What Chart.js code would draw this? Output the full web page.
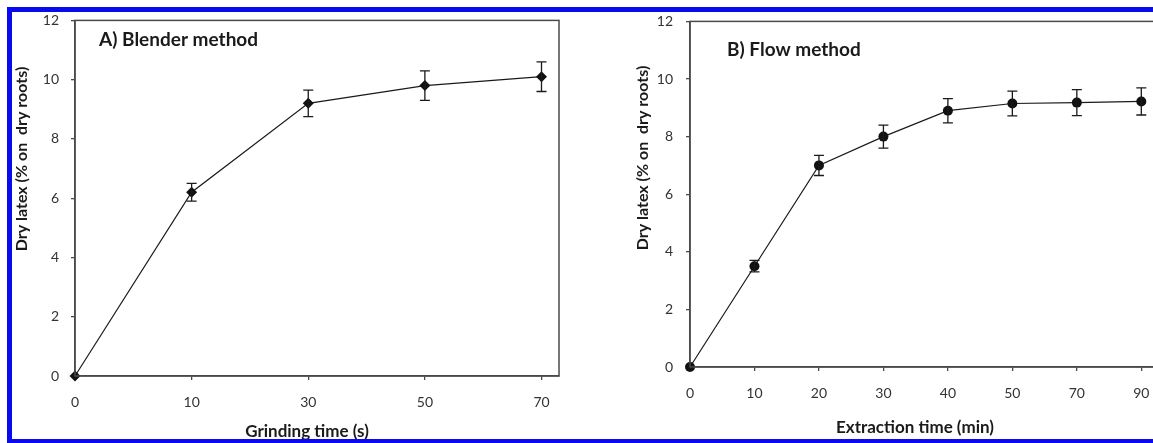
<!DOCTYPE html>
<html>
<head>
<meta charset="utf-8">
<script src="https://cdn.jsdelivr.net/npm/chart.js@4.4.1/dist/chart.umd.min.js"></script>
<style>
    body { margin: 0; width: 1153px; height: 443px; overflow: hidden; background: #ffffff; position: relative; }
    canvas { position: absolute; top: 0; }
    #graficoA { left: 0; }
    #graficoB { left: 580px; }
    .bordo { position: absolute; background: #0a0af0; z-index: 5; }
</style>
</head>
<body>
<canvas id="graficoA" width="580" height="443"></canvas>
<canvas id="graficoB" width="620" height="443"></canvas>
<div class="bordo" style="left:7px; top:7px; width:1146px; height:5px;"></div>
<div class="bordo" style="left:7px; top:7px; width:5px; height:436px;"></div>
<div class="bordo" style="left:7px; top:439px; width:1146px; height:4px;"></div>
<script>
// --- DATI ---
// A) metodo blender
const tempiMacinazione = ['0', '10', '30', '50', '70'];
const latticeBlender = [0, 6.2, 9.2, 9.8, 10.1];
const erroreBlender = [0, 0.3, 0.45, 0.5, 0.5];

// B) metodo a flusso
const tempiEstrazione = ['0', '10', '20', '30', '40', '50', '70', '90'];
const latticeFlusso = [0, 3.5, 7.0, 8.0, 8.9, 9.15, 9.18, 9.22];
const erroreFlusso = [0, 0.2, 0.35, 0.4, 0.42, 0.43, 0.45, 0.47];

// tacche asse y
const tacchePercento = [0, 2, 4, 6, 8, 10, 12];

const FONT = 'Lato, "Open Sans", sans-serif';
const GRIGIO = '#4a4a4a';

// Plugin per barre di errore, cornice e testi (titoli assi e pannello)
const pluginExtra = {
    id: 'extra',
    afterDatasetsDraw(chart, args, opts) {
        const ctx = chart.ctx;
        const yScale = chart.scales.y;
        const meta = chart.getDatasetMeta(0);
        ctx.save();
        ctx.strokeStyle = '#1a1a1a';
        ctx.lineWidth = 1.3;
        meta.data.forEach((punto, i) => {
            const v = opts.valori[i];
            const e = opts.errori[i];
            if (!e) return;
            const yAlto = yScale.getPixelForValue(v + e);
            const yBasso = yScale.getPixelForValue(v - e);
            ctx.beginPath();
            ctx.moveTo(punto.x, yAlto);
            ctx.lineTo(punto.x, yBasso);
            ctx.moveTo(punto.x - 5, yAlto);
            ctx.lineTo(punto.x + 5, yAlto);
            ctx.moveTo(punto.x - 5, yBasso);
            ctx.lineTo(punto.x + 5, yBasso);
            ctx.stroke();
        });
        ctx.restore();
    },
    afterDraw(chart, args, opts) {
        const ctx = chart.ctx;
        const area = chart.chartArea;
        ctx.save();
        // cornice del grafico
        ctx.strokeStyle = GRIGIO;
        ctx.lineWidth = 1.5;
        ctx.strokeRect(area.left, area.top, area.right - area.left, area.bottom - area.top);

        ctx.fillStyle = '#1a1a1a';
        // titolo del pannello
        ctx.font = 'bold 19px ' + FONT;
        ctx.textAlign = 'left';
        ctx.textBaseline = 'middle';
        ctx.fillText(opts.titolo, area.left + opts.titoloDx, opts.titoloY);

        // titolo asse x
        ctx.font = 'bold 17px ' + FONT;
        ctx.textAlign = 'center';
        ctx.fillText(opts.titoloX, opts.titoloXx, opts.titoloXy);

        // titolo asse y (ruotato)
        ctx.translate(opts.titoloYx, opts.titoloYy);
        ctx.rotate(-Math.PI / 2);
        ctx.font = 'bold 16px ' + FONT;
        ctx.fillText(opts.titoloY_testo, 0, 0);
        ctx.restore();
    }
};

// Funzione che crea uno dei due grafici
function creaGrafico(idCanvas, categorie, valori, errori, stileMarker, maxX, padding, larghezzaY, testi) {
    const punti = valori.map((v, i) => ({ x: i, y: v }));
    const ctx = document.getElementById(idCanvas).getContext('2d');
    return new Chart(ctx, {
        type: 'line',
        data: {
            datasets: [{
                data: punti,
                borderColor: '#1a1a1a',
                borderWidth: 1.2,
                backgroundColor: '#111111',
                pointStyle: stileMarker,
                pointRadius: stileMarker === 'rectRot' ? 5.5 : 5,
                pointBorderWidth: 0,
                tension: 0,
                clip: false
            }]
        },
        options: {
            responsive: false,
            animation: false,
            devicePixelRatio: 1,
            layout: { padding: padding },
            plugins: {
                legend: { display: false },
                tooltip: { enabled: false },
                extra: Object.assign({ valori: valori, errori: errori }, testi)
            },
            scales: {
                x: {
                    type: 'linear',
                    min: 0,
                    max: maxX,
                    afterFit: (scala) => { scala.height = 443 - testi.fondoAsse; },
                    grid: { drawOnChartArea: false, drawTicks: true, tickLength: 4, color: GRIGIO, lineWidth: 1.3 },
                    border: { display: true, color: GRIGIO, width: 1.5 },
                    ticks: {
                        stepSize: 1,
                        includeBounds: false,
                        padding: 14,
                        color: '#333333',
                        font: { family: FONT, size: 14 },
                        callback: (v) => Number.isInteger(v) ? categorie[v] : ''
                    }
                },
                y: {
                    min: 0,
                    max: 12,
                    afterFit: (scala) => { scala.width = larghezzaY; },
                    afterBuildTicks: (scala) => { scala.ticks = tacchePercento.map(v => ({ value: v })); },
                    grid: { drawOnChartArea: false, drawTicks: true, tickLength: 4, color: GRIGIO, lineWidth: 1.3 },
                    border: { display: true, color: GRIGIO, width: 1.5 },
                    ticks: {
                        padding: testi.padY,
                        color: '#333333',
                        font: { family: FONT, size: 14 }
                    }
                }
            }
        },
        plugins: [pluginExtra]
    });
}

// --- GRAFICO A ---
creaGrafico('graficoA', tempiMacinazione, latticeBlender, erroreBlender, 'rectRot', 4.15,
    { top: 20, right: 21, left: 0, bottom: 0 }, 75, {
        fondoAsse: 376,
        padY: 12,
        titolo: 'A) Blender method', titoloDx: 24, titoloY: 40,
        titoloX: 'Grinding time (s)', titoloXx: 307, titoloXy: 432,
        titoloY_testo: 'Dry latex (% on  dry roots)', titoloYx: 22, titoloYy: 159
    });

// --- GRAFICO B ---
creaGrafico('graficoB', tempiEstrazione, latticeFlusso, erroreFlusso, 'circle', 7.445,
    { top: 21, right: 30, left: 0, bottom: 0 }, 110, {
        fondoAsse: 367,
        padY: 13,
        titolo: 'B) Flow method', titoloDx: 37, titoloY: 50,
        titoloX: 'Extraction time (min)', titoloXx: 335, titoloXy: 428,
        titoloY_testo: 'Dry latex (% on  dry roots)', titoloYx: 63, titoloYy: 158
    });
</script>
</body>
</html>
